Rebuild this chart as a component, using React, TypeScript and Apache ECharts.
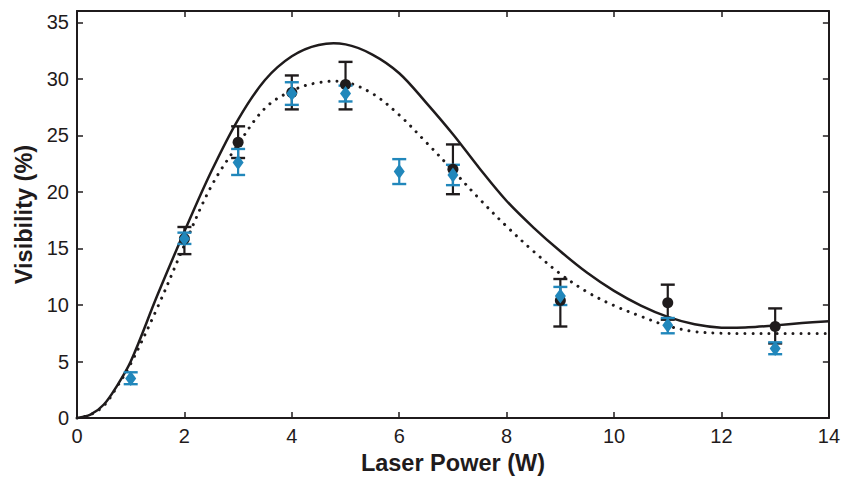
import React, { useEffect, useRef } from "react";
import * as echarts from "echarts";

// Measured data (black circles)
const blackX = [2, 3, 4, 5, 7, 9, 11, 13];
const blackY = [15.85, 24.4, 28.8, 29.5, 22.0, 10.4, 10.2, 8.1];
const blackHigh = [16.9, 25.8, 30.3, 31.5, 24.2, 12.3, 11.8, 9.7];
const blackLow = [14.5, 23.0, 27.3, 27.3, 19.8, 8.1, 8.7, 6.6];

// Measured data (blue diamonds)
const blueX = [1, 2, 3, 4, 5, 6, 7, 9, 11, 13];
const blueY = [3.5, 15.85, 22.6, 28.7, 28.7, 21.8, 21.5, 10.8, 8.2, 6.15];
const blueHigh = [4.05, 16.4, 23.8, 29.7, 29.4, 22.9, 22.4, 11.6, 8.85, 6.7];
const blueLow = [3.0, 15.4, 21.5, 27.7, 28.0, 20.7, 20.6, 10.0, 7.5, 5.65];

// Model curves, read at x steps
const curveX = [0, 0.25, 0.5, 0.75, 1, 1.5, 2, 2.5, 3, 3.5, 4, 4.5, 5, 5.5, 6, 6.5, 7, 7.5, 8, 8.5, 9, 9.5, 10, 10.5, 11, 11.5, 12, 12.5, 13, 13.5, 14];
const solidY = [0, 0.3, 1.2, 2.9, 5.0, 10.9, 16.5, 21.8, 26.4, 29.9, 32.0, 33.0, 33.05, 32.15, 30.5, 27.9, 25.1, 22.05, 19.2, 16.85, 14.75, 12.85, 11.25, 9.95, 8.95, 8.3, 8.0, 8.03, 8.2, 8.4, 8.57];
const dottedY = [0, 0.3, 1.1, 2.8, 4.8, 9.8, 15.3, 20.5, 24.2, 27.4, 28.95, 29.67, 29.7, 28.7, 26.8, 24.4, 21.9, 19.35, 16.95, 14.75, 12.75, 11.15, 9.95, 9.0, 8.15, 7.65, 7.5, 7.48, 7.48, 7.48, 7.48];

const xTicks = { min: 0, max: 14, interval: 2 };
const yTicks = { min: 0, max: 36, interval: 5 };

const DARK = "#1f1b1c";
const BLUE = "#2187bb";
const FONT = "'Liberation Sans', Arial, Helvetica, sans-serif";

function errSeries(xs: number[], lo: number[], hi: number[], color: string) {
  return {
    type: "custom",
    data: xs.map((x, i) => [x, lo[i], hi[i]]),
    renderItem: (params: any, api: any) => {
      const x = api.value(0);
      const pLo = api.coord([x, api.value(1)]);
      const pHi = api.coord([x, api.value(2)]);
      const hw = 7;
      const st = { stroke: color, lineWidth: 2.4 };
      return {
        type: "group",
        children: [
          { type: "line", shape: { x1: pLo[0], y1: pLo[1], x2: pHi[0], y2: pHi[1] }, style: { stroke: color, lineWidth: 2.2 } },
          { type: "line", shape: { x1: pLo[0] - hw, y1: pLo[1], x2: pLo[0] + hw, y2: pLo[1] }, style: st },
          { type: "line", shape: { x1: pHi[0] - hw, y1: pHi[1], x2: pHi[0] + hw, y2: pHi[1] }, style: st },
        ],
      };
    },
    silent: true,
  };
}

function curveSeries(xs: number[], ys: number[], style: any) {
  return {
    type: "custom",
    data: xs.map((x, i) => [x, ys[i]]),
    renderItem: (params: any, api: any) => {
      if (params.dataIndex !== 0) return null;
      const pts = xs.map((x, i) => api.coord([x, ys[i]]));
      return {
        type: "polyline",
        shape: { points: pts, smooth: 0.35 },
        style: { fill: "none", ...style },
      };
    },
    silent: true,
    z: 1,
  };
}

export default function App() {
  const ref = useRef<HTMLDivElement>(null);
  useEffect(() => {
    const chart = echarts.init(ref.current!, null, { renderer: "svg" });
    const axisLine = { show: true, onZero: false, lineStyle: { color: DARK, width: 2 } };
    const axisTick = { show: true, inside: true, length: 6, lineStyle: { color: DARK, width: 1.5 } };
    const label = { color: DARK, fontSize: 20, fontFamily: FONT };
    const nameStyle = { color: DARK, fontSize: 23.5, fontWeight: "bold", fontFamily: FONT };
    chart.setOption({
      animation: false,
      backgroundColor: "#ffffff",
      grid: { left: 77, right: 10, top: 11, bottom: 57, containLabel: false },
      xAxis: [
        {
          type: "value", ...xTicks, position: "bottom",
          axisLine, axisTick, splitLine: { show: false },
          axisLabel: { ...label, margin: 8 },
          name: "Laser Power (W)", nameLocation: "middle", nameGap: 32, nameTextStyle: nameStyle,
        },
        {
          type: "value", ...xTicks, position: "top",
          axisLine, axisTick, splitLine: { show: false }, axisLabel: { show: false },
        },
      ],
      yAxis: [
        {
          type: "value", ...yTicks, position: "left",
          axisLine, axisTick, splitLine: { show: false },
          axisLabel: { ...label, margin: 8, showMaxLabel: false, formatter: (v: number) => (v % 5 === 0 ? String(v) : "") },
          name: "Visibility (%)", nameLocation: "middle", nameGap: 40, nameTextStyle: nameStyle,
        },
        {
          type: "value", ...yTicks, position: "right",
          axisLine, axisTick, splitLine: { show: false }, axisLabel: { show: false },
        },
      ],
      series: [
        curveSeries(curveX, solidY, { stroke: DARK, lineWidth: 2.5 }),
        curveSeries(curveX, dottedY, { stroke: DARK, lineWidth: 3, lineDash: [0.01, 8], lineCap: "round" }),
        { ...errSeries(blackX, blackLow, blackHigh, DARK), z: 2 },
        { ...errSeries(blueX, blueLow, blueHigh, BLUE), z: 3 },
        {
          type: "scatter", data: blackX.map((x, i) => [x, blackY[i]]), symbol: "circle", symbolSize: 11,
          itemStyle: { color: DARK, opacity: 1 }, z: 4, silent: true,
        },
        {
          type: "scatter", data: blueX.map((x, i) => [x, blueY[i]]), symbol: "diamond", symbolSize: [11, 15],
          itemStyle: { color: BLUE, opacity: 1 }, z: 5, silent: true,
        },
      ],
    });
    return () => chart.dispose();
  }, []);
  return <div ref={ref} style={{ position: "absolute", left: 0, top: 0, width: 843, height: 480 }} />;
}
